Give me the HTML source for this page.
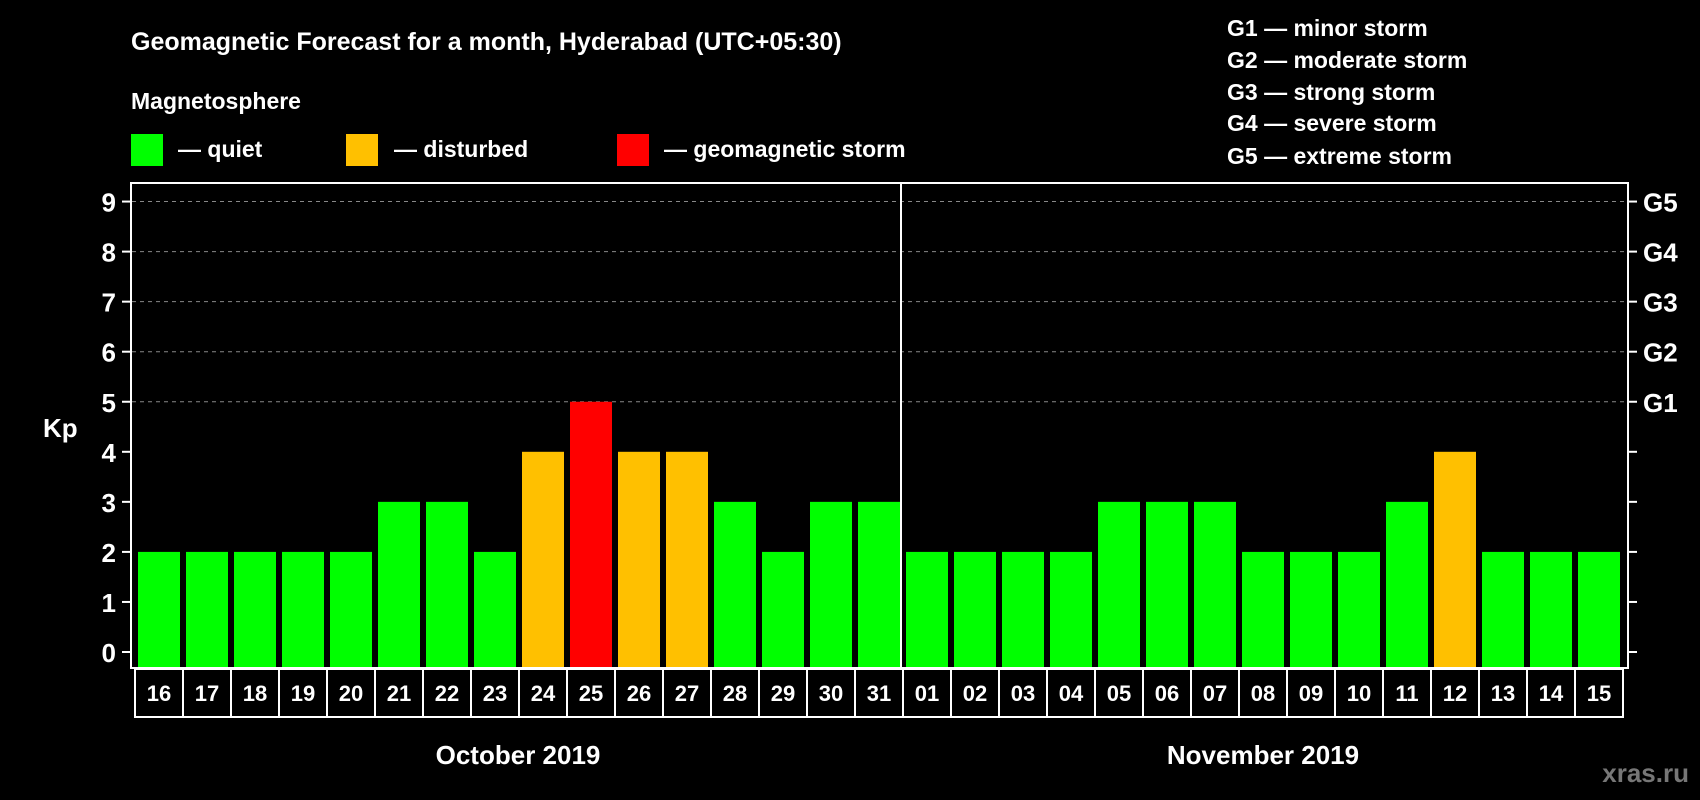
<!DOCTYPE html>
<html><head><meta charset="utf-8">
<style>
html,body{margin:0;padding:0;background:#000;}
svg{display:block;font-family:"Liberation Sans",Arial,sans-serif;font-weight:bold;}
</style></head>
<body>
<svg id="chart" width="1700" height="800" viewBox="0 0 1700 800" xmlns="http://www.w3.org/2000/svg">
<rect width="1700" height="800" fill="#000"/>
<text x="131" y="50" fill="#fff" font-size="25">Geomagnetic Forecast for a month, Hyderabad (UTC+05:30)</text>
<text x="131" y="109" fill="#fff" font-size="23">Magnetosphere</text>
<g>
<rect x="131" y="134" width="32" height="32" fill="#00ff00"/>
<text x="178" y="157" fill="#fff" font-size="23">— quiet</text></g>
<g>
<rect x="346" y="134" width="32" height="32" fill="#ffc000"/>
<text x="394" y="157" fill="#fff" font-size="23">— disturbed</text></g>
<g>
<rect x="617" y="134" width="32" height="32" fill="#ff0000"/>
<text x="664" y="157" fill="#fff" font-size="23">— geomagnetic storm</text></g>
<g fill="#fff" font-size="23">
<text x="1227" y="36">G1 — minor storm</text>
<text x="1227" y="68">G2 — moderate storm</text>
<text x="1227" y="100">G3 — strong storm</text>
<text x="1227" y="131">G4 — severe storm</text>
<text x="1227" y="164">G5 — extreme storm</text>
</g>
<text x="43" y="437" fill="#fff" font-size="26">Kp</text>
<g id="grid"></g>
<g id="bars"></g>
<rect x="131" y="183" width="1497" height="485" fill="none" stroke="#fff" stroke-width="2"/>
<line x1="901" y1="183" x2="901" y2="668" stroke="#fff" stroke-width="2"/>
<g id="axes"></g>
<g id="dates"></g>
<text x="518" y="764" fill="#fff" font-size="26" text-anchor="middle">October 2019</text>
<text x="1263" y="764" fill="#fff" font-size="26" text-anchor="middle">November 2019</text>
<text x="1689" y="782" fill="#777" font-size="26" text-anchor="end">xras.ru</text>
</svg>
<script>
const days = ["16","17","18","19","20","21","22","23","24","25","26","27","28","29","30","31","01","02","03","04","05","06","07","08","09","10","11","12","13","14","15"];
const kpValues = [2,2,2,2,2,3,3,2,4,5,4,4,3,2,3,3,2,2,2,2,3,3,3,2,2,2,3,4,2,2,2];
const yTicks = [0,1,2,3,4,5,6,7,8,9];
const gLabels = ["G1","G2","G3","G4","G5"];
const gLevels = [5,6,7,8,9];

const NS = "http://www.w3.org/2000/svg";
const y = v => 652 - v * 50.05;
const slotX = i => 132 + i * 48;
function mk(tag, attrs, parent, text){
  const e = document.createElementNS(NS, tag);
  for (const k in attrs) e.setAttribute(k, attrs[k]);
  if (text !== undefined) e.textContent = text;
  parent.appendChild(e); return e;
}
const grid = document.getElementById('grid');
gLevels.forEach(v => {
  const l = mk('line', {x1:132, x2:1627, y1:y(v), y2:y(v), stroke:'#888', 'stroke-width':1, 'stroke-dasharray':'4,4'}, grid);
  
  
});
const bars = document.getElementById('bars');
kpValues.forEach((v, i) => {
  const col = v >= 5 ? '#ff0000' : (v >= 4 ? '#ffc000' : '#00ff00');
  const r = mk('rect', {x:slotX(i) + 6, y:y(v), width:42, height:667 - y(v), fill:col}, bars);
  
  
});
const axes = document.getElementById('axes');
yTicks.forEach(v => {
  const t = mk('line', {x1:122, x2:131, y1:y(v), y2:y(v), stroke:'#fff', 'stroke-width':2}, axes);
  
  
  const tx = mk('text', {x:116, y:y(v) + 10, fill:'#fff', 'font-size':26, 'text-anchor':'end'}, axes, String(v));
  
  
  const rt = mk('line', {x1:1628, x2:1637, y1:y(v), y2:y(v), stroke:'#fff', 'stroke-width':2}, axes);
  
  
});
gLevels.forEach((v, i) => {
  const tx = mk('text', {x:1643, y:y(v) + 10, fill:'#fff', 'font-size':26}, axes, gLabels[i]);
  
  
});
const dates = document.getElementById('dates');
days.forEach((d, i) => {
  const bx = 135 + i * 48;
  const r = mk('rect', {x:bx, y:669, width:48, height:48, fill:'none', stroke:'#fff', 'stroke-width':2}, dates);
  
  
  const t = mk('text', {x:bx + 24, y:701, fill:'#fff', 'font-size':22, 'text-anchor':'middle'}, dates, d);
  
  
});
</script>
</body></html>
